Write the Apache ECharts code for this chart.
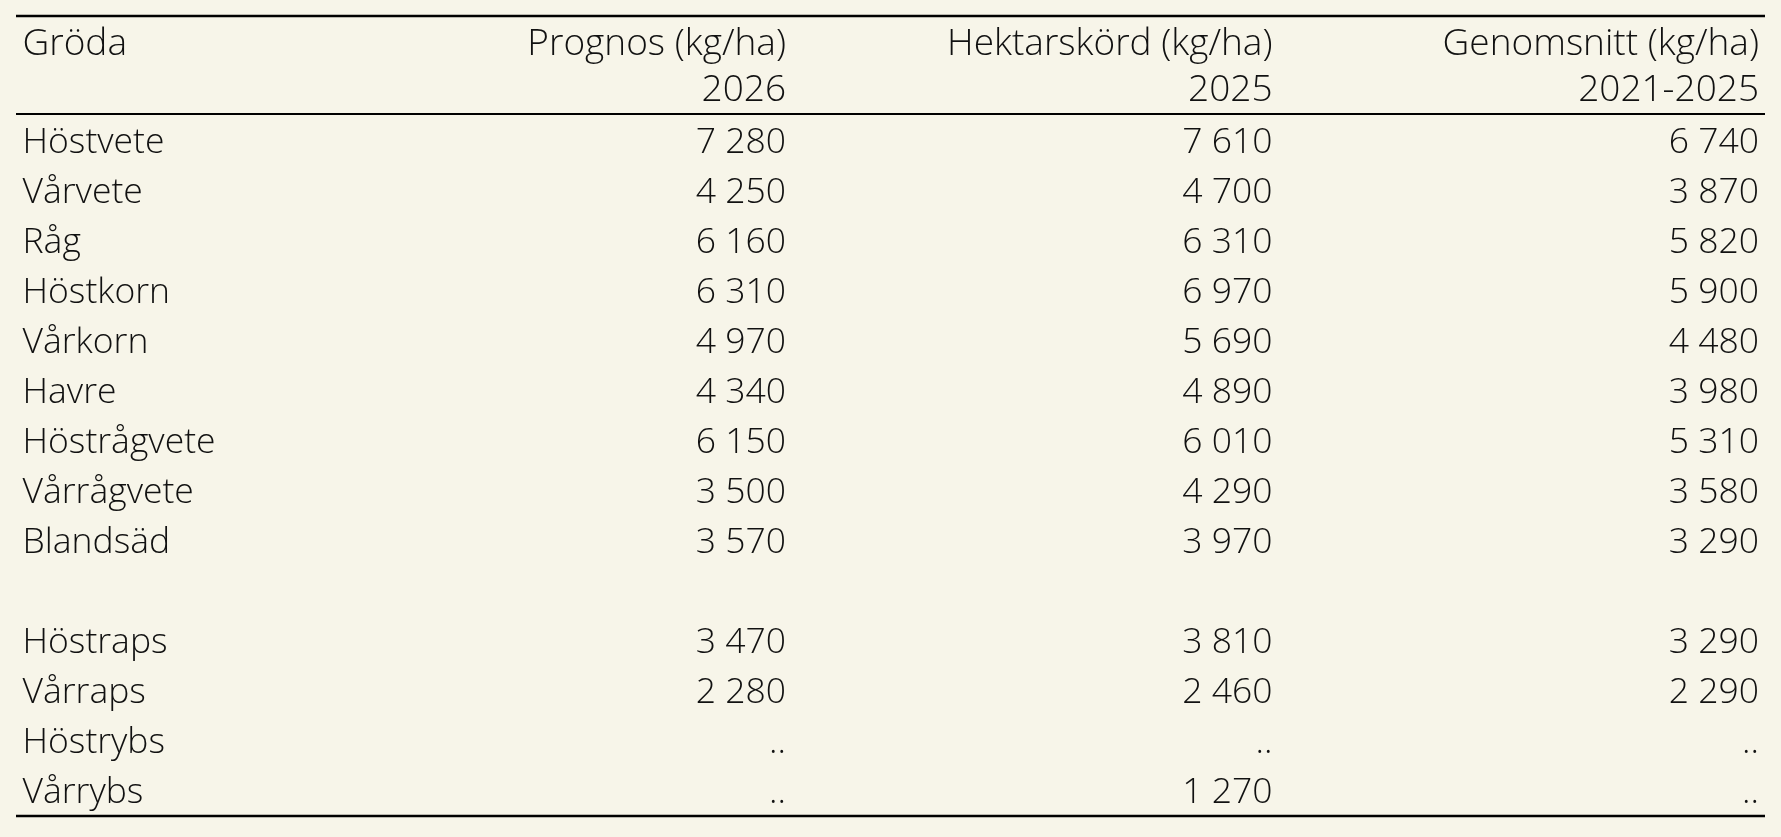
<!DOCTYPE html>
<html>
<head>
<meta charset="utf-8">
<script src="https://cdn.jsdelivr.net/npm/echarts@6/dist/echarts.min.js"></script>
<style>
html,body{margin:0;padding:0;background:#f7f5e9;}
#chart{width:1781px;height:837px;}
</style>
</head>
<body>
<div id="chart"></div>
<script>
// ---- data ----
const headers = ['Gröda', 'Prognos (kg/ha)\n2026', 'Hektarskörd (kg/ha)\n2025', 'Genomsnitt (kg/ha)\n2021-2025'];
const crops = ['Höstvete','Vårvete','Råg','Höstkorn','Vårkorn','Havre','Höstrågvete','Vårrågvete','Blandsäd',
               'Höstraps','Vårraps','Höstrybs','Vårrybs'];
const groupBreakAfter = 'Blandsäd';
const prognos2026 = [7280,4250,6160,6310,4970,4340,6150,3500,3570,3470,2280,null,null];
const hektarskord2025 = [7610,4700,6310,6970,5690,4890,6010,4290,3970,3810,2460,null,1270];
const genomsnitt20212025 = [6740,3870,5820,5900,4480,3980,5310,3580,3290,3290,2290,null,null];
const missingMark = '..';

// ---- build rows (blank spacer row after the cereals) ----
const rows = [];
const rowIndexOf = [];
crops.forEach(function (c) {
  rowIndexOf.push(rows.length);
  rows.push(c);
  if (c === groupBreakAfter) rows.push('');
});

function fmt(v) {
  if (v === null || v === undefined) return missingMark;
  return String(v).replace(/\B(?=(\d{3})+(?!\d))/g, ' ');
}

const FONT_FAMILY = '"Open Sans", "Noto Sans", sans-serif';
const FONT_SIZE = 35.5;
const HEADER_FONT_SIZE = 37;
const FONT_WEIGHT = 300;
const TEXT_COLOR = '#111111';
const fontStr = FONT_WEIGHT + ' ' + FONT_SIZE + 'px ' + FONT_FAMILY;
const headerFontStr = FONT_WEIGHT + ' ' + HEADER_FONT_SIZE + 'px ' + FONT_FAMILY;

function columnSeries(values, col) {
  return {
    type: 'custom',
    coordinateSystem: 'cartesian2d',
    silent: true,
    data: values.map(function (v, i) { return [col, rowIndexOf[i], v === null ? '-' : v]; }),
    encode: { x: 0, y: 1 },
    renderItem: function (params, api) {
      const p = api.coord([api.value(0), api.value(1)]);
      const raw = values[params.dataIndex];
      return {
        type: 'text',
        x: p[0],
        y: p[1],
        style: {
          text: fmt(raw),
          align: 'right',
          verticalAlign: 'middle',
          font: fontStr,
          fill: TEXT_COLOR
        }
      };
    }
  };
}

const LABEL_MARGIN = 277;
const chart = echarts.init(document.getElementById('chart'), null, { renderer: 'canvas' });
chart.setOption({
  backgroundColor: '#f7f5e9',
  animation: false,
  grid: { left: 299.5, right: 22, top: 117.5, bottom: 19.5 },
  xAxis: { type: 'value', min: 0, max: 3, show: false },
  yAxis: {
    type: 'category',
    data: rows,
    inverse: true,
    axisLine: { show: false },
    axisTick: { show: false },
    splitLine: { show: false },
    axisLabel: {
      align: 'left',
      margin: LABEL_MARGIN,
      fontFamily: FONT_FAMILY,
      fontSize: FONT_SIZE,
      fontWeight: FONT_WEIGHT,
      color: TEXT_COLOR
    }
  },
  series: [
    columnSeries(prognos2026, 1),
    columnSeries(hektarskord2025, 2),
    columnSeries(genomsnitt20212025, 3)
  ]
});

// ---- header texts and rules, positioned from the axes ----
const x0 = chart.convertToPixel({ xAxisIndex: 0 }, 0);
const headerGraphics = headers.map(function (h, i) {
  const x = i === 0 ? x0 - LABEL_MARGIN : chart.convertToPixel({ xAxisIndex: 0 }, i);
  return {
    type: 'text',
    x: x,
    y: 21.3,
    silent: true,
    style: {
      text: h,
      align: i === 0 ? 'left' : 'right',
      verticalAlign: 'top',
      font: headerFontStr,
      lineHeight: 46,
      fill: TEXT_COLOR
    }
  };
});
const RULE_L = 16, RULE_R = 1765;
chart.setOption({
  graphic: headerGraphics.concat([
    { type: 'line', silent: true, shape: { x1: RULE_L, y1: 16, x2: RULE_R, y2: 16 }, style: { stroke: '#000', lineWidth: 2.5 } },
    { type: 'line', silent: true, shape: { x1: RULE_L, y1: 114, x2: RULE_R, y2: 114 }, style: { stroke: '#000', lineWidth: 1.8 } },
    { type: 'line', silent: true, shape: { x1: RULE_L, y1: 816, x2: RULE_R, y2: 816 }, style: { stroke: '#000', lineWidth: 2.5 } }
  ])
});
</script>
</body>
</html>
